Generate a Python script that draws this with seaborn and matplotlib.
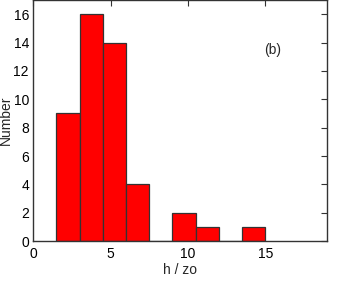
import numpy as np
import pandas as pd
import matplotlib
matplotlib.use('Agg')
import matplotlib.pyplot as plt
import seaborn as sns

# Histogram data
bin_edges = [1.5, 3.0, 4.5, 6.0, 7.5, 9.0, 10.5, 12.0, 13.5, 15.0]
counts = [9, 16, 14, 4, 0, 2, 1, 0, 1]
bin_centers = [(a + b) / 2 for a, b in zip(bin_edges[:-1], bin_edges[1:])]

df = pd.DataFrame({'h_zo': bin_centers, 'count': counts})

sns.set_style('white')
plt.rcParams['font.family'] = ['Liberation Sans', 'DejaVu Sans']

fig = plt.figure(figsize=(3.38, 2.86), dpi=100)
ax = fig.add_axes([0.098, 0.157, 0.870, 0.843])

sns.histplot(data=df, x='h_zo', weights='count', bins=bin_edges,
             color='#ff0000', alpha=1, edgecolor='#333333', linewidth=0.9,
             ax=ax)

# Axis limits, ticks and labels
ax.set_xlim(0, 19)
ax.set_ylim(0, 17)
ax.set_xticks([0, 5, 10, 15])
ax.set_yticks(range(0, 17, 2))
ax.tick_params(direction='in', length=4, width=0.8, labelsize=10,
               top=True, right=True, colors='#333333', labelcolor='black')
ax.tick_params(axis='x', pad=4.5)
ax.tick_params(axis='y', pad=3)
for s in ax.spines.values():
    s.set_color('#333333')
    s.set_linewidth(1.0)
ax.set_xlabel('h / zo', fontsize=10, labelpad=1)
ax.set_ylabel('Number', fontsize=10)
ax.yaxis.set_label_coords(-0.068, 0.5)

ax.text(15.5, 13.5, '(b)', fontsize=10, ha='center', va='center')

fig.savefig('out.png', dpi=100)
